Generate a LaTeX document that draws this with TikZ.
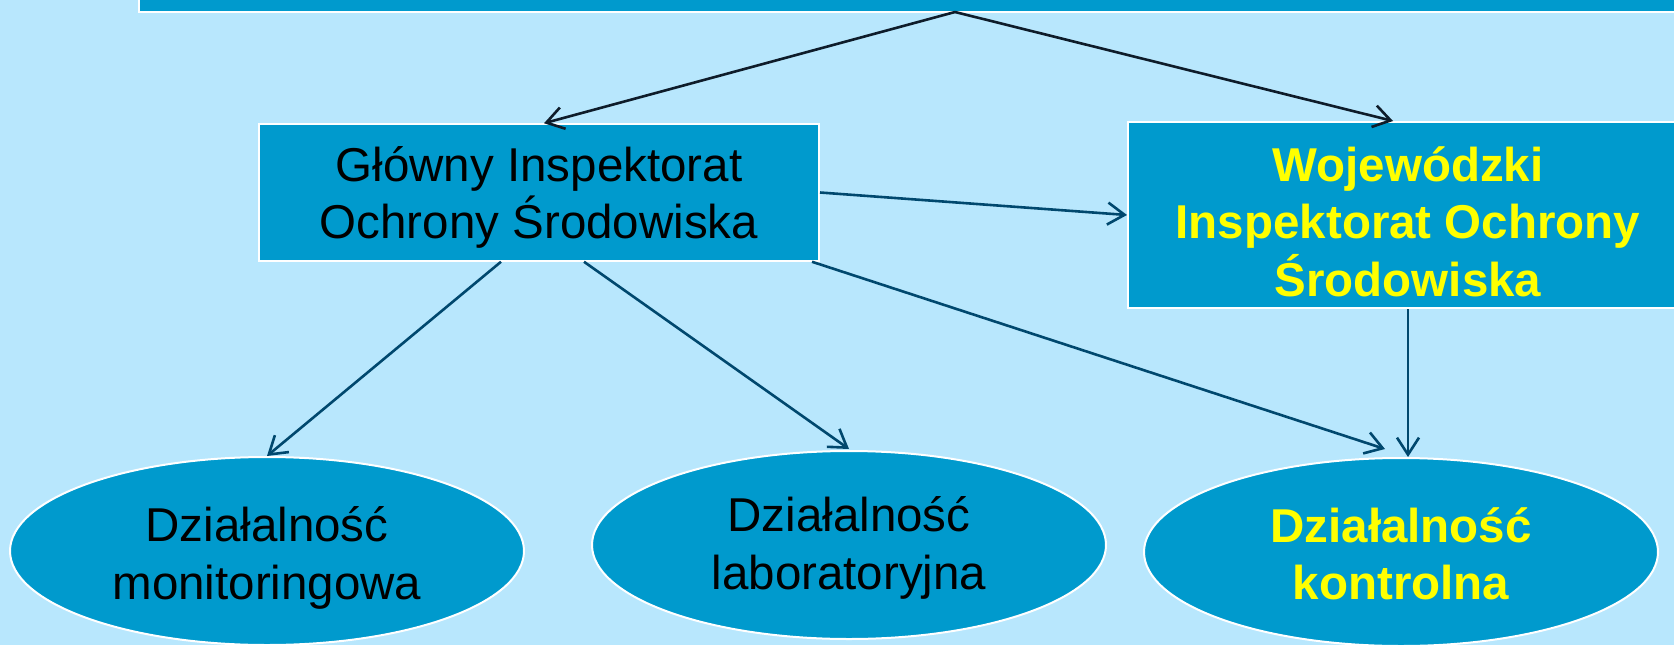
\documentclass[tikz,border=0pt]{standalone}
\usepackage{fontspec}
\setmainfont{Liberation Sans}
\usetikzlibrary{arrows.meta,shapes.geometric}
\definecolor{bgblue}{RGB}{184,231,253}
\definecolor{boxblue}{RGB}{0,154,205}
\definecolor{arrowblue}{RGB}{0,72,110}
\definecolor{arrowdark}{RGB}{14,28,42}
\definecolor{txtyellow}{RGB}{255,255,0}
\newcommand{\topst}[1]{\rule{0pt}{#1pt}}
\newcommand{\botst}{\rule[-12pt]{0pt}{12pt}}
\tikzset{
  shapebase/.style={draw=white, line width=2pt, fill=boxblue, inner sep=0pt, align=center,
    font=\fontsize{47.5}{57.5}\selectfont},
  boxnode/.style={shapebase, rectangle},
  ellnode/.style={shapebase, ellipse, minimum width=514pt, minimum height=188pt},
  yeltext/.style={text=txtyellow, font=\bfseries\fontsize{47.5}{57.5}\selectfont},
  conn/.style={draw=arrowblue, line width=2.6pt, -{Straight Barb[length=17pt,width=22pt]}},
  topconn/.style={conn, draw=arrowdark},
}
\begin{document}
\begin{tikzpicture}[x=1pt,y=-1pt]
\useasboundingbox (0,0) rectangle (1674,645);
\fill[bgblue] (0,0) rectangle (1674,645);

\node[boxnode, minimum width=1561pt, minimum height=42pt] (top) at (919.5,-9) {};
\coordinate (apex) at (955,12);

\node[boxnode, minimum width=560pt, minimum height=136.5pt] (gios) at (539,192.5)
  {\topst{46.5}Główny Inspektorat\\Ochrony Środowiska\botst};
\node[boxnode, yeltext, minimum width=560pt, minimum height=182pt] (wios) at (1408,215)
  {\topst{59}Wojewódzki\\Inspektorat Ochrony\\Środowiska\botst};

\node[ellnode] (e1) at (267,551) {\topst{50.9}Działalność\\monitoringowa\botst};
\node[ellnode] (e2) at (849,545) {\topst{42.9}Działalność\\laboratoryjna\botst};
\node[ellnode, yeltext] (e3) at (1401,552) {\topst{49.5}Działalność\\kontrolna\botst};

\draw[topconn] (apex) -- ([xshift=5pt]gios.north);
\draw[topconn] (apex) -- ([xshift=-15pt]wios.north);
\draw[conn] (gios.east) -- (wios.west);
\draw[conn] ([xshift=-38pt]gios.south) -- (e1.north);
\draw[conn] ([xshift=45pt]gios.south) -- ([yshift=1pt]e2.north);
\draw[conn] ([xshift=273pt]gios.south) -- ([xshift=-16pt,yshift=8pt]e3.north);
\draw[conn] (wios.south) -- (wios.south |- e3.north);
\end{tikzpicture}
\end{document}
